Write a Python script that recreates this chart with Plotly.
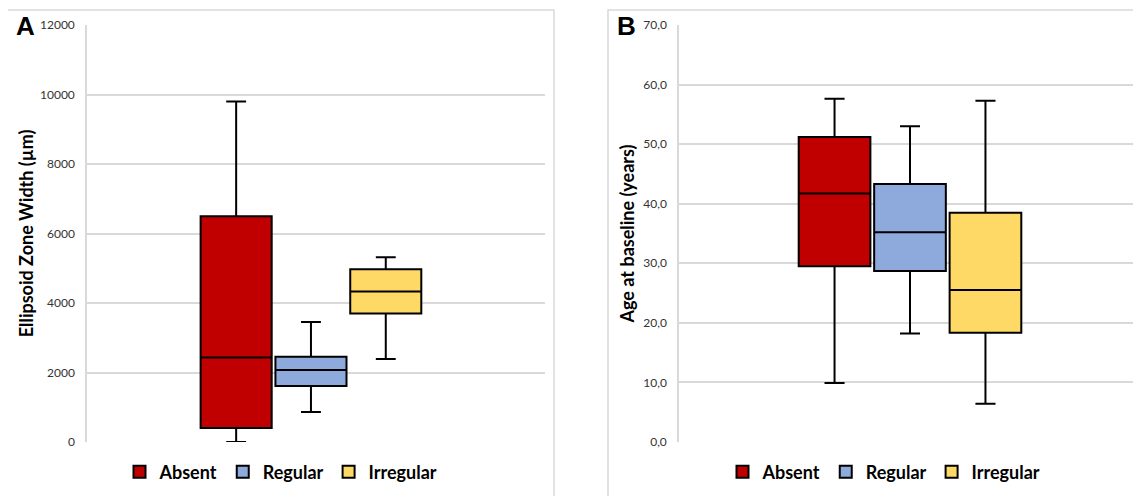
import plotly.graph_objects as go

# ---- data ----
groups = ["Absent", "Regular", "Irregular"]
colors = ["#C00000", "#8EA9DB", "#FFD966"]

# Panel A: Ellipsoid Zone Width (µm)
ez_min = [0, 860, 2390]
ez_q1 = [400, 1610, 3700]
ez_median = [2430, 2070, 4330]
ez_q3 = [6500, 2450, 4970]
ez_max = [9800, 3450, 5320]

# Panel B: Age at baseline (years)
age_min = [9.9, 18.2, 6.4]
age_q1 = [29.5, 28.7, 18.35]
age_median = [41.7, 35.2, 25.5]
age_q3 = [51.2, 43.3, 38.5]
age_max = [57.6, 53.0, 57.3]

OFF = 8  # page body margin
W, H = 1141 - OFF, 496 - OFF
FONT = "Lato"

def px(x):
    return (x - OFF) / W

def py(y):
    return 1 - (y - OFF) / H

fig = go.Figure()

for i, g in enumerate(groups):
    fig.add_trace(go.Box(
        x=["grp"], q1=[ez_q1[i]], median=[ez_median[i]], q3=[ez_q3[i]],
        lowerfence=[ez_min[i]], upperfence=[ez_max[i]],
        name=g, fillcolor=colors[i], line=dict(color="black", width=2),
        whiskerwidth=0.28, boxpoints=False, offsetgroup=g,
        xaxis="x", yaxis="y", legend="legend", hoverinfo="y",
    ))
for i, g in enumerate(groups):
    fig.add_trace(go.Box(
        x=["grp"], q1=[age_q1[i]], median=[age_median[i]], q3=[age_q3[i]],
        lowerfence=[age_min[i]], upperfence=[age_max[i]],
        name=g, fillcolor=colors[i], line=dict(color="black", width=2),
        whiskerwidth=0.28, boxpoints=False, offsetgroup=g,
        xaxis="x2", yaxis="y2", legend="legend2", hoverinfo="y",
    ))

grid = "#D9D9D9"
tickfont = dict(family=FONT, size=12, color="#333333")
titlefont = dict(family=FONT, size=18, color="black", weight="bold")
legfont = dict(family=FONT, size=18, color="black", weight="bold")
letterfont = dict(family="Liberation Sans", size=26, color="black", weight="bold")

yd = [py(442), py(25)]
fig.update_layout(
    width=W, height=H,
    margin=dict(l=0, r=0, t=0, b=0, autoexpand=False),
    paper_bgcolor="white", plot_bgcolor="white",
    boxmode="group", boxgap=0.51, boxgroupgap=0.05,
    separators=",.",
    font=dict(family=FONT),
    xaxis=dict(domain=[px(87), px(545)], range=[-0.489, 0.511],
               showticklabels=False, showgrid=False,
               zeroline=False, showline=False, fixedrange=True),
    yaxis=dict(domain=yd, range=[0, 12000], dtick=2000, tickformat="d",
               showgrid=True, gridcolor=grid, gridwidth=1.5, zeroline=False,
               showline=True, linecolor=grid, linewidth=1.5,
               tickfont=tickfont, ticks="", ticklabelstandoff=8,
               title=dict(text="Ellipsoid Zone Width (µm)", font=titlefont, standoff=2)),
    xaxis2=dict(domain=[px(679), 1.0], showticklabels=False, showgrid=False,
                zeroline=False, showline=False, fixedrange=True),
    yaxis2=dict(domain=yd, range=[0, 70], dtick=10, tickformat=".1f",
                anchor="x2",
                showgrid=True, gridcolor=grid, gridwidth=1.5, zeroline=False,
                showline=True, linecolor=grid, linewidth=1.5,
                tickfont=tickfont, ticks="", ticklabelstandoff=8,
                title=dict(text="Age at baseline (years)", font=titlefont, standoff=4)),
    legend=dict(orientation="h", x=px(281), xanchor="center", y=py(472), yanchor="middle",
                font=legfont, itemwidth=30, bgcolor="rgba(0,0,0,0)"),
    legend2=dict(orientation="h", x=px(884), xanchor="center", y=py(472), yanchor="middle",
                 font=legfont, itemwidth=30, bgcolor="rgba(0,0,0,0)"),
    showlegend=True,
    shapes=[
        dict(type="rect", xref="paper", yref="paper", x0=px(6), x1=px(554),
             y0=py(500), y1=py(10), line=dict(color=grid, width=1.5), layer="below"),
        dict(type="rect", xref="paper", yref="paper", x0=px(608), x1=px(1165),
             y0=py(500), y1=py(10), line=dict(color=grid, width=1.5), layer="below"),
    ],
    annotations=[
        dict(text="A", xref="paper", yref="paper", x=px(25), y=py(26),
             xanchor="center", yanchor="middle", showarrow=False, font=letterfont),
        dict(text="B", xref="paper", yref="paper", x=px(627), y=py(26),
             xanchor="center", yanchor="middle", showarrow=False, font=letterfont),
    ],
)

fig.write_html("out.html")
